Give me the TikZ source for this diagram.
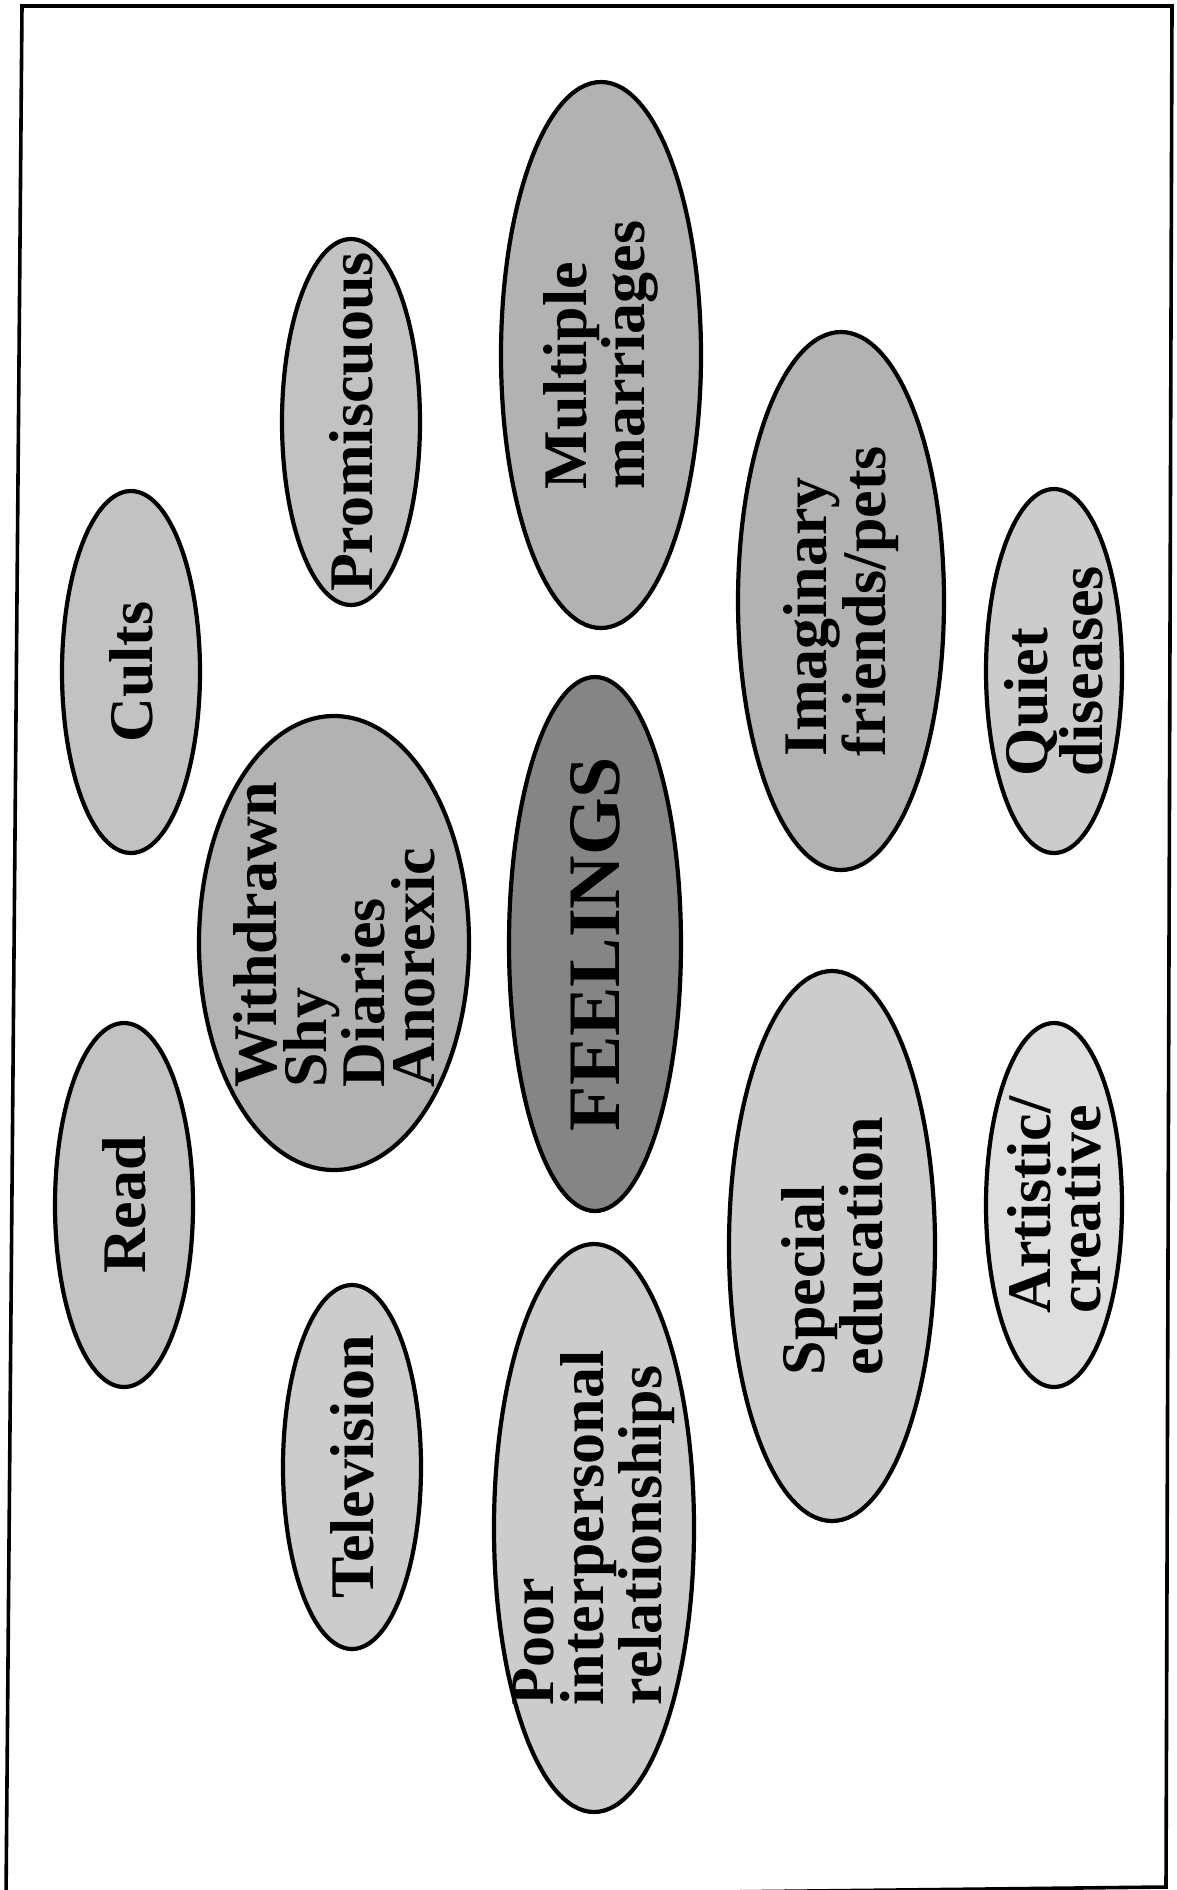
\documentclass[tikz,border=0pt]{standalone}
\usepackage{fontspec}
\setmainfont{Liberation Serif}
\usetikzlibrary{shapes.geometric}
\definecolor{gdark}{gray}{0.52}
\definecolor{gmid}{gray}{0.70}
\definecolor{gmed}{gray}{0.76}
\definecolor{glight}{gray}{0.80}
\definecolor{gpale}{gray}{0.87}
\begin{document}
\begin{tikzpicture}[x=0.5pt,y=-0.5pt,
  ell/.style 2 args={ellipse, draw=black, line width=2.1pt, minimum width=#1pt, minimum height=#2pt, inner sep=0pt},
  lab/.style={rotate=90, align=left, font=\bfseries\fontsize{31}{25}\selectfont, inner sep=0pt},
  biglab/.style={rotate=90, font=\bfseries\fontsize{37}{40}\selectfont, inner sep=0pt}]
\useasboundingbox (0,0) rectangle (1177,1890);
\clip (0,0) rectangle (1177,1890);
\fill[white] (0,0) rectangle (1177,1890);
\draw[line width=1.8pt] (22,6) -- (1172,6) -- (1166,1887) -- (6,1900) -- cycle;

% ellipses
\node[ell={69}{182}, fill=gmed] (read) at (124,1205) {};
\node[ell={69}{181}, fill=gmed] (cults) at (131,672) {};
\node[ell={135}{227}, fill=gmid] (withdrawn) at (334,943) {};
\node[ell={69}{182}, fill=glight] (tv) at (352,1467) {};
\node[ell={69}{183}, fill=gmed] (promiscuous) at (351,422) {};
\node[ell={86}{267}, fill=gdark] (feelings) at (595,944) {};
\node[ell={100}{284}, fill=glight] (poor) at (594,1528) {};
\node[ell={100}{273}, fill=gmid] (multiple) at (601,355) {};
\node[ell={103}{275}, fill=glight] (special) at (832,1246) {};
\node[ell={103}{269}, fill=gmid] (imaginary) at (841,601) {};
\node[ell={68}{182}, fill=gpale] (artistic) at (1054,1205) {};
\node[ell={68}{182}, fill=glight] (quiet) at (1054,671) {};

% labels
\node[lab] (tread) at (read.center) {Read};
\node[lab] (tcults) at (cults.center) {Cults};
\node[lab] (twithdrawn) at ([yshift=4pt]withdrawn.center) {Withdrawn\\Shy\\Diaries\\Anorexic};
\node[lab] (ttv) at (tv.center) {Television};
\node[lab] (tprom) at (promiscuous.center) {Promiscuous};
\node[biglab] (tfeel) at (feelings.center) {FEELINGS};
\node[lab] (tpoor) at (poor.center) {Poor\\interpersonal\\relationships};
\node[lab] (tmult) at (multiple.center) {Multiple\\marriages};
\node[lab] (tspec) at (special.center) {Special\\education};
\node[lab] (timag) at (imaginary.center) {Imaginary\\friends/pets};
\node[lab] (tart) at (artistic.center) {Artistic/\\creative};
\node[lab] (tquiet) at (quiet.center) {Quiet\\diseases};
\end{tikzpicture}
\end{document}
